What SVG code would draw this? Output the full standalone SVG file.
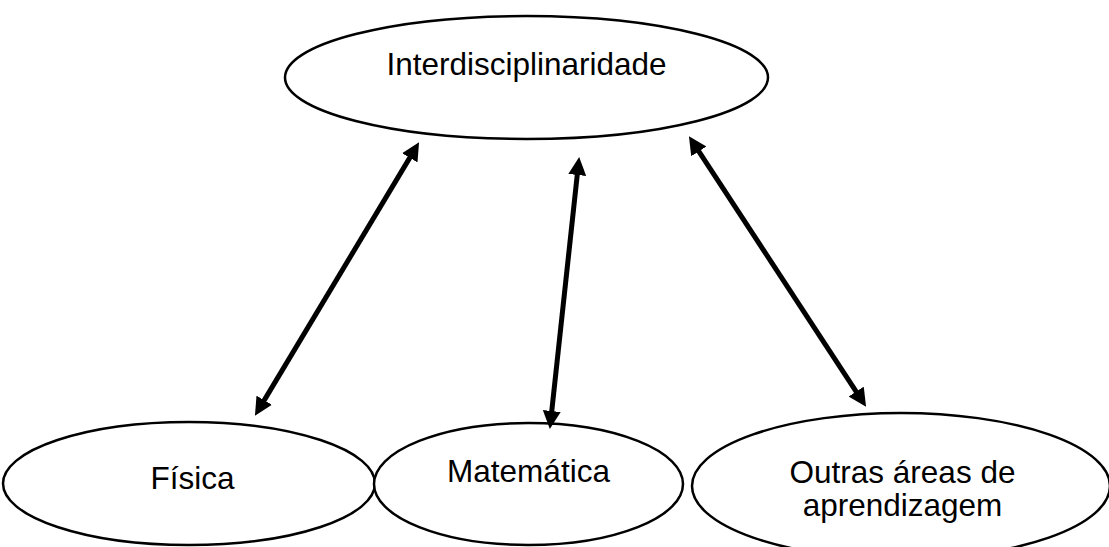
<svg xmlns="http://www.w3.org/2000/svg" width="1109" height="547" viewBox="0 0 1109 547">
  <style>
    .node ellipse { fill: #ffffff; stroke: #000000; stroke-width: 2.5; }
    .label { font-family: "Liberation Sans", Arial, sans-serif; font-size: 31.5px; fill: #000000; text-anchor: middle; }
    .conn line { stroke: #000000; stroke-width: 5; fill: none; marker-start: url(#head); marker-end: url(#head); }
  </style>
  <defs>
    <marker id="head" markerUnits="userSpaceOnUse" markerWidth="18" markerHeight="18" refX="8" refY="9" orient="auto-start-reverse" viewBox="0 0 18 18">
      <path d="M0,0 L18,9 L0,18 Z" fill="#000000"/>
    </marker>
  </defs>
  <rect x="0" y="0" width="1109" height="547" fill="#ffffff"/>
  <g id="node-interdisciplinaridade" class="node">
    <ellipse cx="526.5" cy="77.5" rx="241.5" ry="61.5"/>
    <text class="label" x="526.5" y="75">Interdisciplinaridade</text>
  </g>
  <g id="node-fisica" class="node">
    <ellipse cx="189" cy="483.5" rx="186" ry="61.5"/>
    <text class="label" x="192.5" y="489">Física</text>
  </g>
  <g id="node-matematica" class="node">
    <ellipse cx="528.5" cy="484" rx="154.5" ry="61"/>
    <text class="label" x="528.5" y="482">Matemática</text>
  </g>
  <g id="node-outras" class="node">
    <ellipse cx="901" cy="486" rx="209" ry="73"/>
    <text class="label" x="902.5" y="483"><tspan x="902.5" y="483">Outras áreas de</tspan><tspan x="902.5" y="516">aprendizagem</tspan></text>
  </g>
  <g id="connectors" class="conn">
    <line x1="413.9" y1="150.9" x2="260.1" y2="407.1"/>
    <line x1="578.1" y1="167.0" x2="550.9" y2="419.0"/>
    <line x1="694.4" y1="144.7" x2="860.6" y2="398.3"/>
  </g>
</svg>
